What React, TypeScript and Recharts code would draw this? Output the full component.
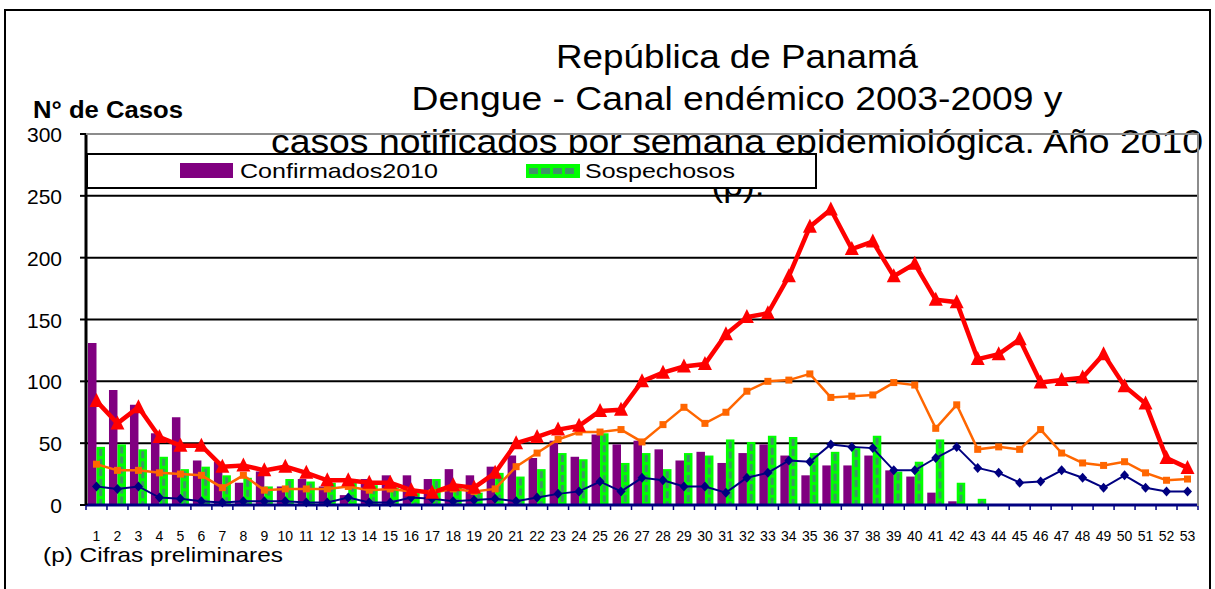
import React from "react";
import { ComposedChart, Bar, Line, XAxis, YAxis, CartesianGrid } from "recharts";

const weeks = [
  "1", "2", "3", "4", "5", "6", "7", "8", "9", "10", "11", "12", "13", "14",
  "15", "16", "17", "18", "19", "20", "21", "22", "23", "24", "25", "26", "27", "28",
  "29", "30", "31", "32", "33", "34", "35", "36", "37", "38", "39", "40", "41", "42",
  "43", "44", "45", "46", "47", "48", "49", "50", "51", "52", "53",
];

// casos 2010 (barras)
const confirmados = [
  131, 93, 81, 58, 71, 36, 35, 18, 27, 15, 21, 15, 8, 21,
  24, 24, 21, 29, 24, 31, 40, 38, 52, 39, 57, 49, 52, 45,
  36, 43, 34, 42, 49, 40, 24, 32, 32, 40, 28, 23, 10, 3,
  0, 0, 0, 0, 0, 0, 0, 0, 0, 0, 0,
];
const sospechosos = [
  47, 49, 45, 39, 29, 31, 24, 22, 15, 21, 19, 18, 18, 16,
  14, 12, 21, 15, 10, 26, 23, 29, 42, 37, 58, 34, 42, 29,
  42, 40, 53, 51, 56, 55, 42, 43, 46, 56, 27, 35, 53, 18,
  5, 0, 0, 0, 0, 0, 0, 0, 0, 0, 0,
];

// canal endemico 2003-2009 (lineas)
const epidemia = [
  84, 66, 79, 55, 48, 48, 31, 32, 28, 31, 26, 20, 20, 18,
  18, 12, 10, 16, 14, 26, 50, 55, 61, 64, 76, 77, 100, 107,
  112, 114, 138, 152, 155, 185, 225, 239, 207, 213, 185, 195, 166, 164,
  118, 122, 134, 99, 101, 103, 122, 96, 82, 38, 30,
];
const alerta = [
  33, 28, 28, 26, 25, 24, 14, 24, 12, 13, 13, 13, 15, 12,
  13, 11, 10, 13, 11, 13, 31, 42, 53, 59, 59, 61, 51, 65,
  79, 66, 75, 92, 100, 101, 106, 87, 88, 89, 99, 97, 62, 81,
  45, 47, 45, 61, 42, 34, 32, 35, 26, 20, 21,
];
const seguridad = [
  15, 13, 15, 6, 5, 3, 2, 3, 3, 3, 2, 2, 6, 2,
  2, 6, 5, 3, 4, 5, 3, 6, 9, 11, 19, 11, 22, 20,
  15, 15, 10, 22, 26, 36, 35, 49, 47, 46, 28, 28, 38, 47,
  30, 26, 18, 19, 28, 22, 14, 24, 14, 11, 11,
];

const yTicks = [0, 50, 100, 150, 200, 250, 300];

const data = weeks.map((w, i) => ({
  semana: w,
  confirmados: confirmados[i],
  sospechosos: sospechosos[i],
  epidemia: epidemia[i],
  alerta: alerta[i],
  seguridad: seguridad[i],
}));

const FONT = "'Liberation Sans', Arial, sans-serif";
const PLOT_W = 1112;
const bw = PLOT_W / weeks.length;

const GreenBar = (props: any) => {
  const { x, y, width, height } = props;
  if (!height || height <= 0) return <g />;
  const cx = x + width / 2;
  return (
    <g>
      <rect x={x} y={y} width={width} height={height} fill="#00FF00" />
      <line
        x1={cx}
        x2={cx}
        y1={y + 2}
        y2={y + height}
        stroke="#3E9466"
        strokeWidth={3}
        strokeDasharray="7 3"
      />
    </g>
  );
};

const Triangle = (props: any) => {
  const { cx, cy } = props;
  if (cx == null || cy == null) return <g />;
  return (
    <path
      d={`M${cx},${cy - 8} L${cx + 7},${cy + 6} L${cx - 7},${cy + 6} Z`}
      fill="#FF0000"
    />
  );
};

const Square = (props: any) => {
  const { cx, cy } = props;
  if (cx == null || cy == null) return <g />;
  return <rect x={cx - 3.5} y={cy - 3.5} width={7} height={7} fill="#FF6600" />;
};

const Diamond = (props: any) => {
  const { cx, cy } = props;
  if (cx == null || cy == null) return <g />;
  return (
    <path
      d={`M${cx},${cy - 5} L${cx + 4.5},${cy} L${cx},${cy + 5} L${cx - 4.5},${cy} Z`}
      fill="#000080"
    />
  );
};

const XTick = (props: any) => {
  const { x, y, payload, index } = props;
  const last = index === weeks.length - 1;
  return (
    <g>
      <line x1={x - bw / 2} x2={x - bw / 2} y1={y} y2={y + 5} stroke="#000080" strokeWidth={1.5} />
      {last && (
        <line x1={x + bw / 2} x2={x + bw / 2} y1={y} y2={y + 5} stroke="#000080" strokeWidth={1.5} />
      )}
      <text x={x} y={y + 36} textAnchor="middle" fontSize={14} fill="#000" fontFamily={FONT}>
        {payload.value}
      </text>
    </g>
  );
};

const YTick = (props: any) => {
  const { x, y, payload } = props;
  return (
    <text x={x} y={y + 8} textAnchor="end" fontSize={21} fill="#000" fontFamily={FONT}>
      {payload.value}
    </text>
  );
};

export default function App() {
  return (
    <div
      style={{
        position: "absolute",
        left: 0,
        top: 0,
        width: 1215,
        height: 589,
        overflow: "hidden",
        background: "#fff",
        fontFamily: FONT,
      }}
    >
      {/* marco */}
      <div
        style={{
          position: "absolute",
          left: 4,
          top: 9,
          width: 1207,
          height: 620,
          border: "2px solid #000",
          boxSizing: "border-box",
        }}
      />

      {/* titulo, por debajo del grafico */}
      <svg width={1215} height={589} style={{ position: "absolute", left: 0, top: 0 }}>
        <g fontFamily={FONT} fill="#000" fontSize={33}>
          <text x={737} y={68} textAnchor="middle" textLength={362} lengthAdjust="spacingAndGlyphs">
            República de Panamá
          </text>
          <text x={737} y={110} textAnchor="middle" textLength={651} lengthAdjust="spacingAndGlyphs">
            Dengue - Canal endémico 2003-2009 y
          </text>
          <text x={737} y={153} textAnchor="middle" textLength={932} lengthAdjust="spacingAndGlyphs">
            casos notificados por semana epidemiológica. Año 2010
          </text>
          <text x={738} y={196} textAnchor="middle" textLength={53} lengthAdjust="spacingAndGlyphs">
            (p).
          </text>
        </g>
        <text
          x={33}
          y={118}
          fontFamily={FONT}
          fontWeight="bold"
          fontSize={23}
          textLength={150}
          lengthAdjust="spacingAndGlyphs"
        >
          N° de Casos
        </text>
        <text x={43} y={562} fontFamily={FONT} fontSize={21} textLength={240} lengthAdjust="spacingAndGlyphs">
          (p) Cifras preliminares
        </text>
      </svg>

      <div style={{ position: "absolute", left: 0, top: 0 }}>
        <ComposedChart
          width={1215}
          height={589}
          data={data}
          margin={{ top: 134, right: 17, bottom: 44, left: 26 }}
          barGap={0}
        >
          <CartesianGrid vertical={false} stroke="#000" strokeWidth={2} />
          <XAxis
            dataKey="semana"
            height={40}
            interval={0}
            tickLine={false}
            tickSize={0}
            tickMargin={0}
            axisLine={{ stroke: "#000080", strokeWidth: 3 }}
            tick={<XTick />}
          />
          <YAxis
            width={60}
            domain={[0, 300]}
            ticks={yTicks}
            interval={0}
            tickSize={6}
            tickMargin={18}
            axisLine={{ stroke: "#000", strokeWidth: 3 }}
            tickLine={{ stroke: "#000", strokeWidth: 2 }}
            tick={<YTick />}
          />
          <Bar dataKey="confirmados" fill="#800080" barSize={8.5} isAnimationActive={false} />
          <Bar dataKey="sospechosos" fill="#00FF00" barSize={8.5} shape={<GreenBar />} isAnimationActive={false} />
          <Line
            dataKey="seguridad"
            stroke="#000080"
            strokeWidth={2}
            dot={<Diamond />}
            activeDot={false}
            isAnimationActive={false}
          />
          <Line
            dataKey="alerta"
            stroke="#FF6600"
            strokeWidth={2.5}
            dot={<Square />}
            activeDot={false}
            isAnimationActive={false}
          />
          <Line
            dataKey="epidemia"
            stroke="#FF0000"
            strokeWidth={4.5}
            dot={<Triangle />}
            activeDot={false}
            isAnimationActive={false}
          />
        </ComposedChart>
      </div>

      {/* borde del area de trazado */}
      <div
        style={{
          position: "absolute",
          left: 86,
          top: 133,
          width: 1113,
          height: 373,
          borderTop: "2px solid #8C8C8C",
          borderRight: "2px solid #8C8C8C",
          boxSizing: "border-box",
          pointerEvents: "none",
        }}
      />

      {/* leyenda */}
      <svg width={731} height={36} style={{ position: "absolute", left: 86, top: 153 }}>
        <rect x={1} y={1} width={729} height={34} fill="#fff" stroke="#000" strokeWidth={2} />
        <rect x={94} y={10} width={53} height={15} fill="#800080" />
        <text x={154} y={25} fontFamily={FONT} fontSize={21} textLength={198} lengthAdjust="spacingAndGlyphs">
          Confirmados2010
        </text>
        <rect x={440} y={11} width={54} height={14} fill="#00FF00" />
        <line x1={443} x2={491} y1={18} y2={18} stroke="#3E9466" strokeWidth={6} strokeDasharray="9 3" />
        <text x={499} y={25} fontFamily={FONT} fontSize={21} textLength={150} lengthAdjust="spacingAndGlyphs">
          Sospechosos
        </text>
      </svg>
    </div>
  );
}
